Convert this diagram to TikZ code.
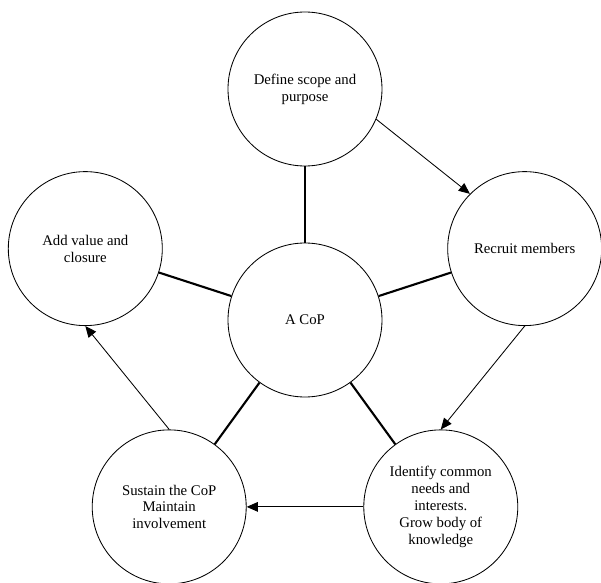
\documentclass[tikz,border=0pt]{standalone}
\usepackage{fontspec}
\setmainfont{Liberation Serif}
\usetikzlibrary{arrows.meta,positioning,calc}
\tikzset{>={Triangle[length=2.8mm,width=2.4mm]}}

\begin{document}
\begin{tikzpicture}[
		every node/.style={font=\fontsize{10.5}{12}\selectfont},
		stage/.style={draw,circle,line width=0.6pt,minimum size=3.85cm,inner sep=0pt,align=center},
		link/.style={line width=1.5pt},
		flow/.style={->,line width=0.6pt},
	]
	\def\ringrad{5.775}
	\useasboundingbox (-7.625,-6.575) rectangle (7.4,8.0);

	% centre and the five stages round it
	\node[stage] (cop) at (0,0) {A CoP};
	\node[stage] (scope) at (90:\ringrad) {Define scope and\\purpose};
	\node[stage] (recruit) at (18:\ringrad) {Recruit members};
	\node[stage] (identify) at (-54:\ringrad) {Identify common\\needs and\\interests.\\Grow body of\\knowledge};
	\node[stage] (sustain) at (-126:\ringrad) {Sustain the CoP\\Maintain\\involvement};
	\node[stage] (addvalue) at (162:\ringrad) {Add value and\\closure};

	% spokes
	\foreach \s in {scope,recruit,identify,sustain,addvalue}{
			\draw[link] (cop) -- (\s);
		}

	% cycle
	\draw[flow] (scope.-23) -- (recruit.135);
	\draw[flow] (recruit.south) -- (identify.north);
	\draw[flow] (identify.west) -- (sustain.east);
	\draw[flow] (sustain.north) -- (addvalue.south);

\end{tikzpicture}
\end{document}
